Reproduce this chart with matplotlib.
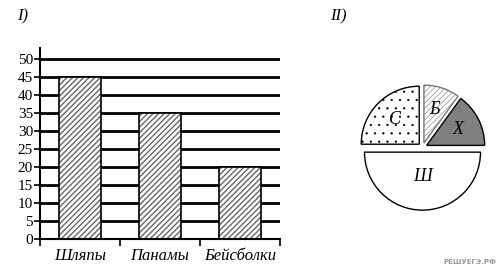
import matplotlib.pyplot as plt
import numpy as np

plt.rcParams['font.family'] = 'Liberation Serif'
plt.rcParams['hatch.linewidth'] = 1.0

# bar chart data
categories = ['Шляпы', 'Панамы', 'Бейсболки']
counts = [45, 35, 20]
yticks = [0, 5, 10, 15, 20, 25, 30, 35, 40, 45, 50]

# pie chart data (counter-clockwise from 0 deg)
pie_labels = ['Х', 'Б', 'С', 'Ш']
pie_values = [15, 10, 25, 50]
pie_colors = ['#808080', 'white', 'white', 'white']
pie_hatches = ['', '//////', '..', '']

W, H = 501, 270
fig = plt.figure(figsize=(W / 100, H / 100), dpi=100)

# ---- I) bar chart
ax = fig.add_axes([40 / W, (H - 239) / H, 240 / W, 191 / H])
ax.set_xlim(0, 3)
ax.set_ylim(0, 53)
for v in yticks[1:]:
    ax.axhline(v, color='black', lw=2, zorder=1)
xs = [i + 0.5 for i in range(len(categories))]
ax.bar(xs, counts, width=0.52, color='white', edgecolor='#666666',
       hatch='//////', lw=0, zorder=2)
ax.bar(xs, counts, width=0.52, fill=False, edgecolor='black', lw=1.2, zorder=3)
ax.spines['top'].set_visible(False)
ax.spines['right'].set_visible(False)
ax.spines['left'].set_linewidth(1.5)
ax.spines['bottom'].set_linewidth(1.5)
ax.set_yticks(yticks)
ax.set_yticklabels([str(v) for v in yticks], fontsize=11)
ax.set_xticks([0, 1, 2, 3])
ax.set_xticklabels([])
ax.tick_params(axis='y', length=4, width=1.2, pad=1)
ax.tick_params(axis='x', length=5, width=1.2, direction='out')
for x, c in zip(xs, categories):
    ax.text(x, -2.5, c, ha='center', va='top', fontsize=12, style='italic')
fig.text(17 / W, 1 - 16 / H, 'I)', fontsize=12, style='italic', va='center')

# ---- II) pie chart
plt.rcParams['hatch.linewidth'] = 0.4
pax = fig.add_axes([350 / W, (H - 220) / H, 145 / W, 145 / H])
pax.set_xlim(-1.2, 1.2)
pax.set_ylim(-1.2, 1.2)
pax.set_aspect('equal')
pax.axis('off')
wedges, _ = pax.pie(pie_values, colors=pie_colors, startangle=0,
                    counterclock=True, explode=[0.08] * 4,
                    wedgeprops=dict(edgecolor='black', linewidth=1.0))
for w, h in zip(wedges, pie_hatches):
    if h:
        w.set_hatch(h)
wedges[1].set_edgecolor('#777777')
for w, lab in zip(wedges, pie_labels):
    mid = np.deg2rad((w.theta1 + w.theta2) / 2)
    cx, cy = w.center
    d = 0.6 if lab != 'Ш' else 0.42
    pax.text(cx + d * np.cos(mid), cy + d * np.sin(mid), lab,
             ha='center', va='center', fontsize=13, style='italic')
fig.text(330 / W, 1 - 16 / H, 'II)', fontsize=12, style='italic', va='center')

fig.text(496 / W, 1 - 262 / H, 'РЕШУЕГЭ.РФ', fontsize=5, color='#999999',
         family='DejaVu Sans', weight='bold', ha='right', va='center')

fig.savefig('out.png', dpi=100)
